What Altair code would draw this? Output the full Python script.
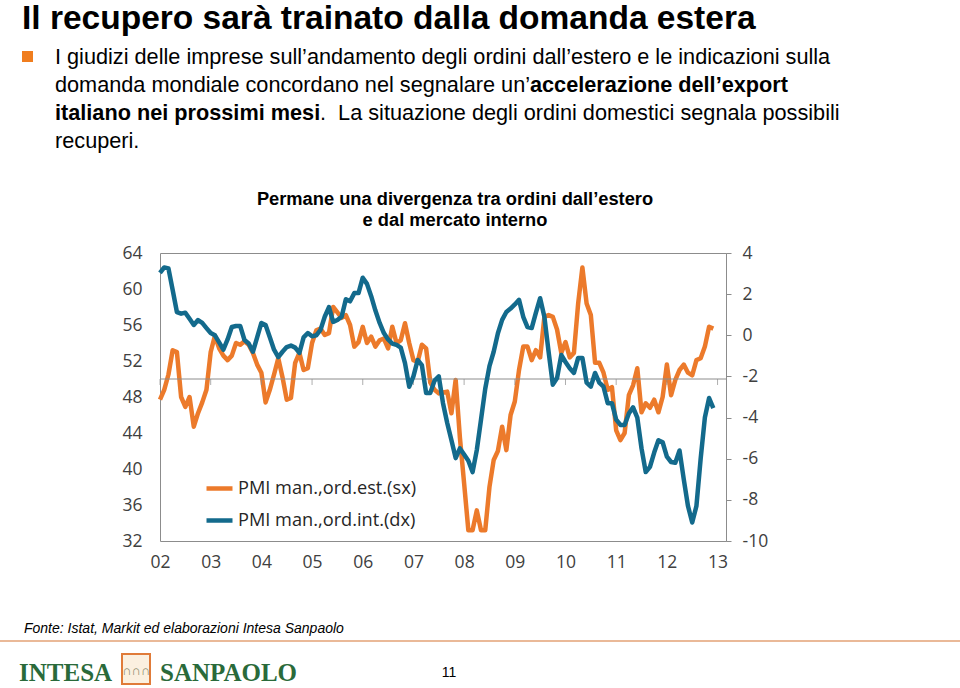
import json
import altair as alt
import pandas as pd

# ---------------- data ----------------
x_labels = ['02', '03', '04', '05', '06', '07', '08', '09', '10', '11', '12', '13']
series_names = ['PMI man.,ord.est.(sx)', 'PMI man.,ord.int.(dx)']

# PMI manifatturiero, ordini esteri (scala sx), mensile da gen-02
ord_est = [
    47.7, 48.8, 50.5, 53.2, 53.0, 48.0, 46.9, 48.0, 44.7, 46.2, 47.4, 48.8,
    53.0, 54.8, 53.4, 52.6, 52.1, 52.6, 54.0, 53.8, 54.2, 53.8, 52.9, 51.6,
    50.7, 47.4, 48.8, 50.5, 52.3, 50.2, 47.7, 47.9, 51.8, 52.9, 51.0, 51.2,
    54.0, 55.4, 55.6, 54.9, 55.1, 58.0, 57.4, 56.8, 57.1, 56.0, 53.6, 54.1,
    55.8, 54.0, 54.7, 53.6, 54.3, 54.5, 53.4, 55.8, 54.0, 54.3, 56.2, 54.0,
    52.1, 51.9, 53.8, 53.4, 49.6, 48.8, 48.4, 48.5, 48.6, 46.2, 49.9, 43.5,
    38.4, 33.2, 33.2, 35.4, 33.2, 33.2, 38.0, 41.0, 42.0, 44.7, 42.1, 46.0,
    47.5, 51.0, 53.6, 53.6, 52.1, 53.2, 52.4, 56.9, 57.1, 56.9, 55.5, 52.9,
    54.1, 52.4, 52.9, 58.4, 62.4, 58.4, 57.1, 51.8, 51.8, 50.7, 48.8, 49.1,
    44.3, 43.2, 44.0, 48.2, 49.3, 51.2, 46.3, 47.3, 46.8, 47.7, 46.3, 48.0,
    51.6, 48.2, 49.9, 51.0, 51.6, 50.7, 50.4, 52.1, 52.3, 53.6, 55.8, 55.6,
]

# PMI manifatturiero, ordini interni (scala dx)
ord_int = [
    3.03, 3.3, 3.25, 2.2, 1.13, 1.05, 1.1, 0.8, 0.5, 0.74, 0.6, 0.35,
    0.11, 0.0, -0.35, -0.7, -0.2, 0.4, 0.45, 0.45, -0.23, -0.4, -0.8, -0.1,
    0.6, 0.5, -0.1, -0.7, -1.06, -0.8, -0.57, -0.5, -0.6, -0.86, -0.1, 0.11,
    -0.05, 0.0, 0.26, 0.9, 1.37, 0.65, 0.74, 0.9, 1.75, 1.65, 2.05, 2.05,
    2.8, 2.5, 1.9, 1.2, 0.6, 0.11, -0.2, -0.4, -0.47, -0.6, -1.35, -2.5,
    -2.0, -1.2, -1.45, -2.8, -2.8, -2.2, -2.0, -3.3, -4.26, -5.1, -5.97, -5.5,
    -5.8, -6.1, -6.65, -5.58, -4.1, -2.6, -1.5, -0.8, 0.1, 0.75, 1.13, 1.3,
    1.5, 1.72, 0.9, 0.4, 0.35, 1.1, 1.8, 0.9, -0.8, -2.4, -2.08, -0.96,
    -1.3, -1.6, -1.83, -1.1, -1.1, -2.3, -2.5, -1.83, -2.3, -2.5, -3.3, -3.3,
    -4.1, -4.36, -4.36, -3.8, -3.5, -4.0, -5.5, -6.65, -6.4, -5.7, -5.1, -5.2,
    -5.9, -6.16, -6.2, -5.6, -7.0, -8.3, -9.1, -8.3, -6.0, -4.0, -3.05, -3.54,
]

left_ticks = [32, 36, 40, 44, 48, 52, 56, 60, 64]
right_ticks = [-10, -8, -6, -4, -2, 0, 2, 4]
left_domain = [32, 64]
right_domain = [-10, 4]
axis_cross = 50

# ---------------- style ----------------
ORANGE = '#EC7A2B'
BLUE = '#136A8C'
GRAY = '#8c8c8c'
AXFONT = 'Open Sans'
SLIDE = 'Liberation Sans, Arial, sans-serif'
SANS = 'Liberation Sans, Arial, sans-serif'
BODY = 21.7

n = len(ord_est)
df = pd.DataFrame({
    'm': list(range(n)) * 2,
    'serie': [series_names[0]] * n + [series_names[1]] * n,
    'v': ord_est + ord_int,
})
month_ticks = [12 * i for i in range(len(x_labels))]
dummy = pd.DataFrame({'d': [0]})

x_scale = alt.Scale(domain=[0, 134], nice=False, zero=False)
x_axis = alt.Axis(
    values=month_ticks,
    labelExpr=json.dumps(x_labels) + '[round(datum.value / 12)]',
    ticks=False, domain=False, grid=False, title=None,
    labelFont=AXFONT, labelFontSize=17.5, labelColor='#404040',
    labelPadding=12, labelFlush=False, labelOverlap=False,
)
x_enc = alt.X('m:Q', scale=x_scale, axis=x_axis)

color_enc = alt.Color(
    'serie:N',
    scale=alt.Scale(domain=series_names, range=[ORANGE, BLUE]),
    legend=alt.Legend(
        orient='none', legendX=44, legendY=220, direction='vertical',
        title=None, symbolType='stroke', symbolSize=676,
        symbolStrokeWidth=4.5, labelFont=AXFONT, labelFontSize=18.2,
        labelColor='#262626', rowPadding=7, labelOffset=3, labelLimit=400,
    ),
)

left_scale = alt.Scale(domain=left_domain, nice=False, zero=False)
left_axis = alt.Axis(
    values=left_ticks, orient='left', ticks=False, domain=False,
    grid=False, title=None, labelFont=AXFONT, labelFontSize=17.5,
    labelColor='#404040', labelPadding=18, labelFlush=False,
    labelOverlap=False,
)
y_left = alt.Y('v:Q', scale=left_scale, axis=left_axis)

y_right = alt.Y(
    'v:Q',
    scale=alt.Scale(domain=right_domain, nice=False, zero=False),
    axis=alt.Axis(
        values=right_ticks, orient='right', ticks=True, tickSize=5,
        tickColor=GRAY, domain=True, domainColor=GRAY, grid=False,
        title=None, labelFont=AXFONT, labelFontSize=17.5,
        labelColor='#404040', labelPadding=11, labelFlush=False,
        labelOverlap=False, labelExpr="'' + datum.value",
    ),
)

base = alt.Chart(df)

orange_line = base.transform_filter(
    alt.datum.serie == series_names[0]
).mark_line(strokeWidth=4.5, strokeJoin='round').encode(
    x=x_enc, y=y_left, color=color_enc
)

zero_rule = alt.Chart(dummy).mark_rule(color=GRAY, strokeWidth=1).encode(
    y=alt.YDatum(axis_cross, scale=left_scale, axis=left_axis)
)

tick_marks = alt.Chart(pd.DataFrame({'m': month_ticks})).mark_tick(
    orient='vertical', size=6, yOffset=3, thickness=1, color=GRAY
).encode(
    x=x_enc,
    y=alt.YDatum(axis_cross, scale=left_scale, axis=left_axis),
)

left_group = alt.layer(orange_line, zero_rule, tick_marks)

blue_line = base.transform_filter(
    alt.datum.serie == series_names[1]
).mark_line(strokeWidth=4.5, strokeJoin='round').encode(
    x=x_enc, y=y_right, color=color_enc
)


def txt(s, x, y, size, weight='normal', style='normal', font=SLIDE,
        color='#000000', align='left'):
    return alt.Chart(dummy).mark_text(
        align=align, baseline='alphabetic', font=font, fontSize=size,
        fontWeight=weight, fontStyle=style, color=color,
    ).encode(x=alt.value(x), y=alt.value(y), text=alt.value(s))


decor = [
    txt('Il recupero sarà trainato dalla domanda estera', -138, -224, 33.5, 'bold'),
    alt.Chart(dummy).mark_rect(color='#F07D1E').encode(
        x=alt.value(-138), x2=alt.value(-127), y=alt.value(-202), y2=alt.value(-191)
    ),
    txt('I giudizi delle imprese sull’andamento degli ordini dall’estero e le indicazioni sulla',
        -105, -189, BODY),
    txt('domanda mondiale concordano nel segnalare un’', -105, -161, BODY),
    txt('accelerazione dell’export', 370, -161, BODY, 'bold'),
    txt('italiano nei prossimi mesi', -105, -133, BODY, 'bold'),
    txt('.\u00a0 La situazione degli ordini domestici segnala possibili', 160, -133, BODY),
    txt('recuperi.', -105, -105, BODY),
    txt('Permane una divergenza tra ordini dall’estero', 295, -48, 18.3, 'bold',
        font=SANS, align='center'),
    txt('e dal mercato interno', 295, -27, 18.3, 'bold', font=SANS, align='center'),
    txt('Fonte: Istat, Markit ed elaborazioni Intesa Sanpaolo', -136, 380, 14,
        style='italic', font=SANS),
    alt.Chart(dummy).mark_rule(color='#E3A276', strokeWidth=1.5).encode(
        x=alt.value(-160), x2=alt.value(800), y=alt.value(388)
    ),
    txt('INTESA', -141, 428, 25, 'bold', font='Liberation Serif, serif', color='#2A6A3A'),
    alt.Chart(dummy).mark_rect(fill='#FBF0E0', stroke='#E07B39', strokeWidth=2).encode(
        x=alt.value(-38), x2=alt.value(-10), y=alt.value(401), y2=alt.value(431)
    ),
    txt('∩∩∩', -24, 422, 13, font=SANS, color='#8A8A6A', align='center'),
    txt('SANPAOLO', 0, 428, 25, 'bold', font='Liberation Serif, serif', color='#2A6A3A'),
    txt('11', 289, 424, 14, font=SANS, align='center'),
]

chart = alt.layer(left_group, blue_line, *decor).resolve_scale(
    y='independent'
).properties(
    width=566,
    height=288,
    padding={'left': 160, 'top': 253, 'right': 234, 'bottom': 147},
    autosize=alt.AutoSizeParams(type='none'),
    background='white',
).configure_view(stroke=GRAY, strokeWidth=1)

chart.save('out.html', embed_options={'renderer': 'svg', 'actions': False})
